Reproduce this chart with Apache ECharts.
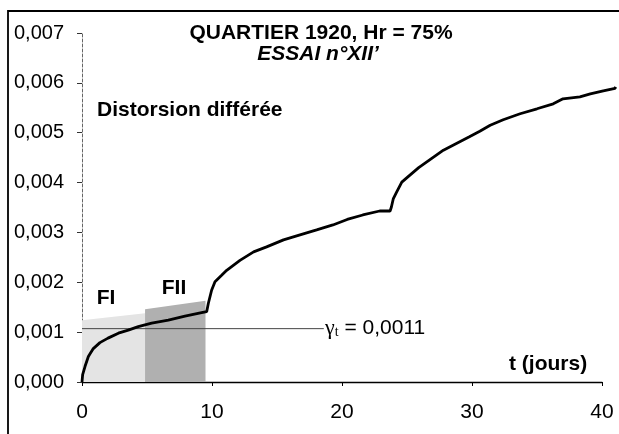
<!DOCTYPE html>
<html>
<head>
<meta charset="utf-8">
<script src="https://cdn.jsdelivr.net/npm/echarts@6/dist/echarts.min.js"></script>
<style>
html,body{margin:0;padding:0;background:#fff;}
#chart{width:619px;height:434px;}
</style>
</head>
<body>
<div id="chart"></div>
<script>
// time (days)
var tDays = [0, 0.05, 0.23, 0.49, 0.87, 1.38, 2.0, 2.8, 3.56, 4.33, 5.36, 6.64, 7.92, 9.2, 9.59, 9.72, 9.97, 10.23, 10.74, 11.13, 12.15, 13.2, 14.2, 15.5, 16.77, 18.05, 19.3, 20.4, 21.6, 22.9, 23.7, 23.8, 23.95, 24.2, 24.6, 25.0, 25.9, 27.8, 29.8, 30.6, 31.4, 32.4, 33.7, 35.0, 36.25, 37.0, 38.3, 39.1, 40.1, 41.0, 41.05];
// delayed distortion
var strain = [0, 0.00015, 0.00031, 0.00051, 0.00067, 0.00079, 0.00088, 0.00098, 0.00104, 0.00111, 0.00118, 0.00124, 0.00132, 0.00139, 0.00141, 0.00158, 0.00184, 0.00201, 0.00214, 0.00224, 0.00244, 0.00261, 0.00271, 0.00285, 0.00295, 0.00305, 0.00315, 0.00326, 0.00335, 0.00343, 0.00343, 0.00351, 0.00368, 0.00381, 0.00401, 0.0041, 0.0043, 0.00465, 0.00492, 0.00503, 0.00515, 0.00526, 0.00538, 0.00548, 0.00558, 0.00568, 0.00572, 0.00578, 0.00584, 0.00589, 0.00592];
// shaded zones FI and FII (t, top value)
var zoneFI_t = [0, 4.85];
var zoneFI_v = [0.00124, 0.00138];
var zoneFII_t = [4.85, 9.5];
var zoneFII_v = [0.00146, 0.00163];
// threshold gamma_t
var gammaT = 0.00107;
var gammaLine_t = [0, 18.6];
var xTicks = [0, 10, 20, 30, 40];
var yTicks = [0, 0.001, 0.002, 0.003, 0.004, 0.005, 0.006, 0.007];
// the recorded curve runs a little past the last labelled tick
var tEnd = 41.2;

function zip(a, b) { return a.map(function (x, i) { return [x, b[i]]; }); }

var FONT = '"Liberation Sans", Arial, sans-serif';
var L = 82, R = 17, T = 33, B = 52;
var plotW = 619 - L - R;
var xMax = xTicks[xTicks.length - 1];
var pxPerDay = plotW / xMax;
var R2 = 619 - L - tEnd * pxPerDay;
var yMax = yTicks[yTicks.length - 1];

var chart = echarts.init(document.getElementById('chart'), null, {renderer: 'canvas'});
chart.setOption({
  animation: false,
  backgroundColor: '#fff',
  grid: [
    {left: L, right: R, top: T, bottom: B},
    {left: L, right: R2, top: T, bottom: B}
  ],
  xAxis: [{
    type: 'value', gridIndex: 0, min: xTicks[0], max: xMax, interval: 10,
    axisLine: {show: true, onZero: false, lineStyle: {color: '#000', width: 1.3}},
    axisTick: {show: true, inside: false, length: 4, lineStyle: {color: '#000'}},
    axisLabel: {color: '#000', fontSize: 21, fontFamily: FONT, margin: 20},
    splitLine: {show: false}
  }, {
    type: 'value', gridIndex: 1, min: 0, max: tEnd, show: false
  }],
  yAxis: [{
    type: 'value', gridIndex: 0, min: 0, max: yMax, interval: 0.001,
    axisLine: {show: true, lineStyle: {color: '#666', width: 1, type: [3, 2]}},
    axisTick: {show: true, length: 5, lineStyle: {color: '#333'}},
    axisLabel: {color: '#000', fontSize: 20, fontFamily: FONT, margin: 18,
      formatter: function (v) { return v.toFixed(3).replace('.', ','); }},
    splitLine: {show: false}
  }, {
    type: 'value', gridIndex: 1, min: 0, max: yMax, show: false
  }],
  series: [
    {type: 'line', data: zip(zoneFI_t, zoneFI_v), symbol: 'none', silent: true,
      lineStyle: {opacity: 0}, areaStyle: {color: '#e4e4e4', opacity: 1}, z: 1},
    {type: 'line', data: zip(zoneFII_t, zoneFII_v), symbol: 'none', silent: true,
      lineStyle: {opacity: 0}, areaStyle: {color: '#b0b0b0', opacity: 1}, z: 2},
    {type: 'line', data: zip(gammaLine_t, [gammaT, gammaT]), symbol: 'none', silent: true,
      lineStyle: {color: '#444', width: 1}, z: 3},
    {type: 'line', xAxisIndex: 1, yAxisIndex: 1, data: zip(tDays, strain), symbol: 'none', silent: true,
      lineStyle: {color: '#000', width: 2.8}, z: 5}
  ],
  graphic: [
    {type: 'rect', shape: {x: 8, y: 11, width: 700, height: 500}, silent: true,
      style: {fill: null, stroke: '#000', lineWidth: 1.8}},
    {type: 'text', x: 321, y: 33, silent: true, style: {text: 'QUARTIER 1920, Hr = 75%', fill: '#000',
      font: 'bold 21px ' + FONT, textAlign: 'center', textVerticalAlign: 'middle'}},
    {type: 'text', x: 318, y: 54, silent: true, style: {text: 'ESSAI n°XII\u2019', fill: '#000',
      font: 'italic bold 21px ' + FONT, textAlign: 'center', textVerticalAlign: 'middle'}},
    {type: 'text', x: 97, y: 110, silent: true, style: {text: 'Distorsion différée', fill: '#000',
      font: 'bold 21px ' + FONT, textAlign: 'left', textVerticalAlign: 'middle'}},
    {type: 'text', x: 106, y: 298, silent: true, style: {text: 'FI', fill: '#000',
      font: 'bold 21px ' + FONT, textAlign: 'center', textVerticalAlign: 'middle'}},
    {type: 'text', x: 174, y: 288, silent: true, style: {text: 'FII', fill: '#000',
      font: 'bold 21px ' + FONT, textAlign: 'center', textVerticalAlign: 'middle'}},
    {type: 'text', x: 509, y: 364, silent: true, style: {text: 't (jours)', fill: '#000',
      font: 'bold 21px ' + FONT, textAlign: 'left', textVerticalAlign: 'middle'}},
    {type: 'text', x: 325, y: 328, silent: true, style: {
      text: '{g|γ}{s|t}{n| = 0,0011}', textAlign: 'left', textVerticalAlign: 'middle',
      rich: {
        g: {font: '22px "Liberation Serif", serif', fill: '#000'},
        s: {font: '14px "Liberation Serif", serif', fill: '#000', padding: [8, 0, 0, 0]},
        n: {font: '21px ' + FONT, fill: '#000'}
      }}}
  ]
});
</script>
</body>
</html>
